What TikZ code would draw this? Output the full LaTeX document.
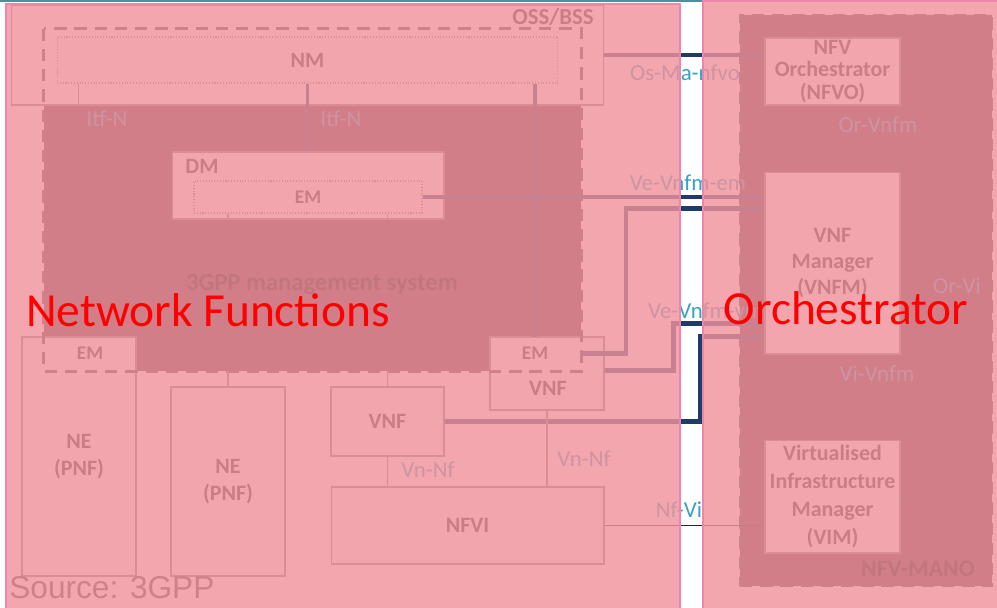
\documentclass[tikz,border=0pt]{standalone}
\usepackage{fontspec}
\setmainfont{Carlito}
\newfontfamily\srcfont{Liberation Sans}
\usepackage{tikz}
\usetikzlibrary{positioning, calc}
\definecolor{ovl}{RGB}{241,145,155}
\definecolor{ovledge}{RGB}{238,134,172}
\definecolor{navy}{RGB}{31,60,105}
\definecolor{ifteal}{RGB}{56,160,200}
\definecolor{boxgray}{RGB}{128,128,128}
\definecolor{boxtxt}{RGB}{40,40,40}
\definecolor{darkfill}{RGB}{75,48,55}
\definecolor{topteal}{RGB}{74,145,160}
\tikzset{
    box/.style={rectangle, draw=boxgray, fill=white, line width=0.6pt, text=boxtxt, align=center, inner sep=0pt, font=\bfseries\fontsize{12.5}{15}\selectfont},
    box_dot/.style={box, densely dotted},
    box_lbl/.style={text=boxtxt, inner sep=0pt, font=\bfseries\fontsize{12.5}{15}\selectfont},
    if_lbl/.style={text=ifteal, inner sep=0pt, font=\fontsize{13}{15}\selectfont},
    link/.style={navy, line width=2.4pt},
    link_thin/.style={black!75, line width=0.6pt},
    grp_fill/.style={fill=darkfill},
    grp_line/.style={draw=black!75, line width=1.7pt, dash pattern=on 7pt off 4.5pt},
    veil/.style={fill=ovl, fill opacity=0.81},
    veil_edge/.style={draw=ovledge, line width=1.2pt},
    veil_txt/.style={text=red, inner sep=0pt, font=\fontsize{27}{30}\selectfont}
}
\begin{document}
\begin{tikzpicture}[x=0.02cm, y=-0.02cm]
			\useasboundingbox (0,0) rectangle (997,608);
			\draw[topteal, line width=1.7pt] (0,1) -- (997,1);
			
			\node (oss) [box, fill=none, minimum width=11.86cm, minimum height=2cm] at (307.5,55) {};
			\node (oss_t) [box_lbl, font=\bfseries\fontsize{13}{15}\selectfont] at (553,17) {OSS/BSS};
			\node (mgmt) [minimum width=10.74cm, minimum height=6.84cm, inner sep=0pt] at (312.5,200) {};
			\fill[grp_fill] (mgmt.west |- oss.south) rectangle (mgmt.south east);
			\node (mgmt_t) [box_lbl, text=black, font=\bfseries\fontsize{14}{16}\selectfont] at (322,285) {3GPP management system};
			
			\node (nm) [box_dot, minimum width=10.02cm, minimum height=0.92cm] at (307.5,60) {NM};
			\node (dm) [box, minimum width=5.44cm, minimum height=1.34cm] at (308,185.5) {};
			\node (dm_t) [box_lbl] at (202,166) {DM};
			\node (em1) [box_dot, minimum width=4.56cm, minimum height=0.64cm, font=\bfseries\fontsize{11}{13}\selectfont] at (308,197) {EM};
			\node (ne1) [box, minimum width=2.28cm, minimum height=4.78cm] at (79,456.5) {NE\\(PNF)};
			\node (em3) [box_lbl, font=\bfseries\fontsize{11}{13}\selectfont] at (90,353.5) {EM};
			\node (ne2) [box, minimum width=2.28cm, minimum height=3.78cm] at (228,481.5) {NE\\(PNF)};
			\node (vnf2) [box, minimum width=2.26cm, minimum height=1.38cm] at (387.5,421.5) {VNF};
			\node (vnf1) [box, minimum width=2.28cm, minimum height=1.46cm] at (547,373.5) {};
			\node (vnf1_t) [box_lbl] at (548,388) {VNF};
			\node (em2) [box_lbl, minimum width=1.8cm, minimum height=0.66cm, font=\bfseries\fontsize{11}{13}\selectfont] at (535,353.5) {EM};
			\node (nfvi) [box, minimum width=5.46cm, minimum height=1.54cm] at (467.5,525.5) {NFVI};
			\draw[grp_line] (mgmt.north west) rectangle (mgmt.south east);
			
			\node (mano) [grp_fill, grp_line, minimum width=5.04cm, minimum height=11.42cm] at (866,300.5) {};
			\node (mano_t) [box_lbl, text=black, font=\bfseries\fontsize{13.5}{15}\selectfont] at (918,569) {NFV-MANO};
			\node (nfvo) [box, minimum width=2.7cm, minimum height=1.34cm, inner ysep=-4pt, font=\bfseries\fontsize{12.5}{13}\selectfont] at (832.5,71.5) {NFV\\Orchestrator\\(NFVO)};
			\node (vnfm) [box, minimum width=2.7cm, minimum height=3.64cm, below=1.32cm of nfvo, font=\bfseries\fontsize{12.5}{14.7}\selectfont] {VNF\\Manager\\(VNFM)};
			\node (vim) [box, minimum width=2.7cm, minimum height=2.26cm, below=1.7cm of vnfm, font=\bfseries\fontsize{12.5}{16}\selectfont] {Virtualised\\Infrastructure\\Manager\\(VIM)};
			
			\coordinate (itf1) at ($(nm.south west)+(22,0)$);
			\draw[link_thin, boxgray] (itf1) -- (itf1 |- oss.south);
			\draw[link, line width=2pt] (nm.south) -- (nm.south |- dm.north);
			\draw[link, line width=2pt] (nm.south -| em2.north) -- (em2.north);
			\draw[link] (oss.east) -- (oss.east -| nfvo.west);
			\draw[link] (em1.east) -- (em1.east -| vnfm.west);
			\draw[link] (em2.east) -- ++(46,0) |- ($(vnfm.north west)+(0,37)$);
			\draw[link] ($(vnf1.east)+(0,-3)$) -- ++(69,0) |- ($(vnfm.south west)+(0,-31)$);
			\draw[link] (vnf2.east) -- ++(256,0) |- ($(vnfm.south west)+(0,-18)$);
			\draw[link_thin, black!85] (nfvi.east) -- (nfvi.east -| vim.west);
			\draw[link_thin] (nfvo.south) -- (vnfm.north);
			\draw[link_thin] (vnfm.south) -- (vim.north);
			\draw[link_thin] (nfvo.east) -- ++(23,0) |- (vim.east);
			\draw[link_thin, boxgray] (em1.south -| ne2.north) -- (dm.south -| ne2.north);
			\draw[link_thin, boxgray] (em1.south -| vnf2.north) -- (dm.south -| vnf2.north);
			\draw[link_thin, boxgray] (mgmt.south -| ne2.north) -- (ne2.north);
			\draw[link_thin, boxgray] (mgmt.south -| vnf2.north) -- (vnf2.north);
			\draw[link_thin, boxgray] (vnf2.south) -- (vnf2.south |- nfvi.north);
			\draw[link_thin, boxgray] (vnf1.south) -- (vnf1.south |- nfvi.north);
			
			\node (itf1_t) [if_lbl] at (107,119) {Itf-N};
			\node (itf2_t) [if_lbl] at (341,119) {Itf-N};
			\node (osma_t) [if_lbl] at (685,73) {Os-Ma-nfvo};
			\node (vem_t) [if_lbl] at (688,183) {Ve-Vnfm-em};
			\node (vev_t) [if_lbl] at (706,311) {Ve-Vnfm-vnf};
			\node (orvnfm_t) [if_lbl] at (878,125) {Or-Vnfm};
			\node (vivnfm_t) [if_lbl] at (877,374) {Vi-Vnfm};
			\node (orvi_t) [if_lbl] at (957,286) {Or-Vi};
			\node (vnnf1_t) [if_lbl] at (428,470) {Vn-Nf};
			\node (vnnf2_t) [if_lbl] at (584,459) {Vn-Nf};
			\node (nfvi_t) [if_lbl] at (679,510) {Nf-Vi};
			\node (src) [anchor=west, text=black!75, inner sep=0pt, font=\srcfont\fontsize{18}{20}\selectfont] at (9,588) {Source: 3GPP};
			
			\fill[veil] (6,4) rectangle (680,612);
			\draw[veil_edge] (6,4) rectangle (680,612);
			\fill[veil] (703,1) rectangle (1000,612);
			\draw[veil_edge] (703,1) rectangle (1000,612);
			\node (nf_t) [veil_txt] at (208,310) {Network Functions};
			\node (orc_t) [veil_txt] at (846,308) {Orchestrator};
		\end{tikzpicture}
\end{document}
